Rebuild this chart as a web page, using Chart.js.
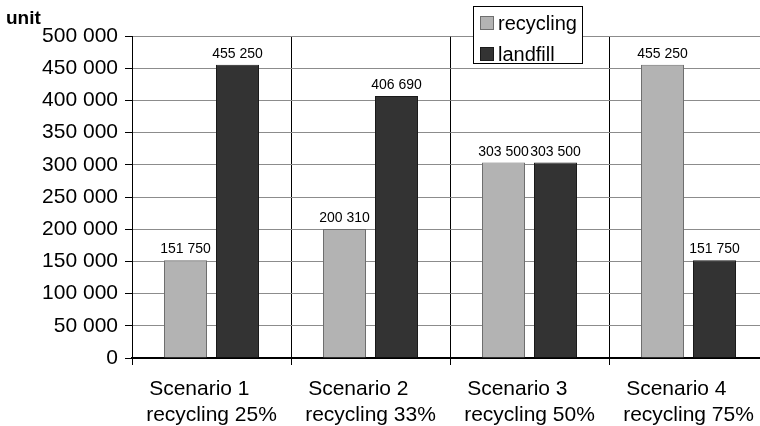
<!DOCTYPE html>
<html>
<head>
<meta charset="utf-8">
<script src="https://cdn.jsdelivr.net/npm/chart.js@4.4.1/dist/chart.umd.min.js"></script>
<style>
  html, body { margin: 0; padding: 0; overflow: hidden; background: #fff; }
  #wrap { position: relative; width: 770px; height: 426px; }
</style>
</head>
<body>
<div id="wrap"><canvas id="chartId" width="770" height="426"></canvas></div>
<script>
const scenarios = ['Scenario 1', 'Scenario 2', 'Scenario 3', 'Scenario 4'];
const recyclingShares = ['recycling 25%', 'recycling 33%', 'recycling 50%', 'recycling 75%'];
const recyclingValues = [151750, 200310, 303500, 455250];
const landfillValues = [455250, 406690, 303500, 151750];
const yTicks = [0, 50000, 100000, 150000, 200000, 250000, 300000, 350000, 400000, 450000, 500000];

const font = '"Liberation Sans", Arial, sans-serif';

function spaced(v) {
    return String(v).replace(/\B(?=(\d{3})+(?!\d))/g, ' ');
}

// value labels above each bar
const barLabels = {
    id: 'barLabels',
    afterDatasetsDraw(chart) {
        const ctx = chart.ctx;
        ctx.save();
        ctx.font = '14px ' + font;
        ctx.fillStyle = '#000';
        ctx.textAlign = 'center';
        ctx.textBaseline = 'alphabetic';
        chart.data.datasets.forEach((ds, i) => {
            chart.getDatasetMeta(i).data.forEach((bar, j) => {
                ctx.fillText(spaced(ds.data[j]), bar.x, bar.y - 7);
            });
        });
        ctx.restore();
    }
};

// two-line category labels: second line centred, first line starts just after it
const catLabels = {
    id: 'catLabels',
    afterDraw(chart) {
        const ctx = chart.ctx;
        const xs = chart.scales.x;
        ctx.save();
        ctx.font = '21px ' + font;
        ctx.fillStyle = '#000';
        ctx.textBaseline = 'alphabetic';
        chart.data.labels.forEach((lines, i) => {
            const cx = xs.getPixelForValue(i);
            const w2 = ctx.measureText(lines[1]).width;
            const left = cx - w2 / 2;
            ctx.textAlign = 'left';
            ctx.fillText(lines[0], left + 3, 395);
            ctx.fillText(lines[1], left, 421);
        });
        ctx.restore();
    }
};

// boxed legend sitting over the top of the plot
const boxLegend = {
    id: 'boxLegend',
    afterDraw(chart) {
        const ctx = chart.ctx;
        ctx.save();
        ctx.fillStyle = '#fff';
        ctx.fillRect(473, 6, 109, 57);
        ctx.strokeStyle = '#000';
        ctx.lineWidth = 1;
        ctx.strokeRect(473.5, 6.5, 109, 57);
        ctx.font = '20px ' + font;
        ctx.textBaseline = 'middle';
        chart.data.datasets.forEach((ds, i) => {
            const y = 23 + i * 31;
            ctx.fillStyle = ds.backgroundColor;
            ctx.fillRect(480, y - 7, 14, 14);
            ctx.strokeStyle = ds.borderColor;
            ctx.strokeRect(480.5, y - 6.5, 13, 13);
            ctx.fillStyle = '#000';
            ctx.fillText(ds.label, 498, y + 1);
        });
        ctx.restore();
    }
};

// "unit" caption
const unitTitle = {
    id: 'unitTitle',
    afterDraw(chart) {
        const ctx = chart.ctx;
        ctx.save();
        ctx.font = 'bold 19px ' + font;
        ctx.fillStyle = '#000';
        ctx.textBaseline = 'alphabetic';
        ctx.fillText('unit', 6, 24);
        ctx.restore();
    }
};

var chrt = document.getElementById('chartId').getContext('2d');
var chartId = new Chart(chrt, {
    type: 'bar',
    data: {
        labels: scenarios.map((s, i) => [s, recyclingShares[i]]),
        datasets: [{
            label: 'recycling',
            data: recyclingValues,
            backgroundColor: '#b3b3b3',
            borderColor: '#6e6e6e',
            borderWidth: 1
        }, {
            label: 'landfill',
            data: landfillValues,
            backgroundColor: '#333333',
            borderColor: '#1a1a1a',
            borderWidth: 1
        }]
    },
    options: {
        responsive: false,
        animation: false,
        categoryPercentage: 0.654,
        barPercentage: 0.827,
        layout: { padding: { top: 36, right: 2, left: 0, bottom: 0 } },
        plugins: {
            legend: { display: false },
            tooltip: { enabled: false }
        },
        scales: {
            x: {
                grid: { color: '#000', tickColor: '#000', tickLength: 7, lineWidth: 1, offset: true },
                border: { color: '#000', width: 2 },
                ticks: { display: false, maxRotation: 0, autoSkip: false },
                afterFit(scale) { scale.height = 68; }
            },
            y: {
                min: 0,
                max: 500000,
                afterBuildTicks(scale) { scale.ticks = yTicks.map(v => ({ value: v })); },
                grid: { color: '#8c8c8c', tickColor: '#000', tickLength: 7, lineWidth: 1 },
                border: { color: '#000', width: 1 },
                ticks: {
                    color: '#000',
                    font: { family: font, size: 21 },
                    padding: 7,
                    callback: v => spaced(v)
                },
                afterFit(scale) { scale.width = 132; }
            }
        }
    },
    plugins: [barLabels, catLabels, boxLegend, unitTitle]
});
</script>
</body>
</html>
